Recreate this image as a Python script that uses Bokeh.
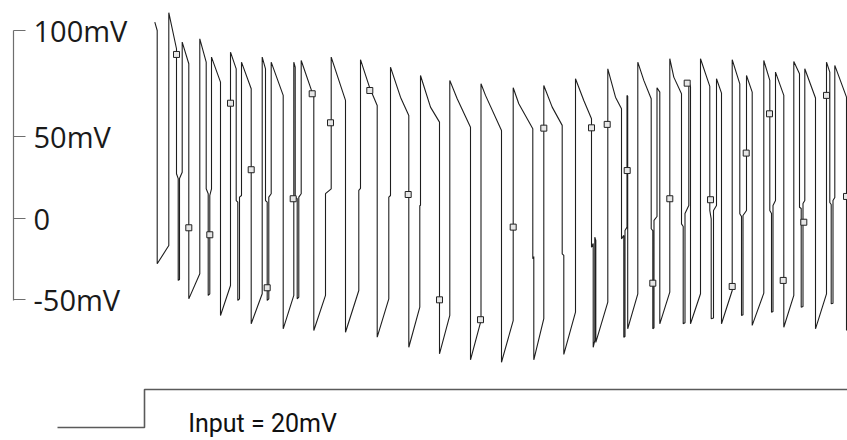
from bokeh.plotting import figure
from bokeh.models import Range1d, LinearAxis, FixedTicker
from bokeh.layouts import column, row
from bokeh.embed import file_html
from bokeh.resources import INLINE
from bokeh.core.properties import value

# membrane potential trace (time in ms, potential in mV)
t_ms = [10.3, 12.7, 12.7, 24.3, 24.3, 32.0, 32.0, 33.7, 33.7, 35.0, 35.0, 37.7, 37.7, 44.3, 44.3,
        55.3, 55.3, 61.7, 61.7, 63.7, 63.7, 65.3, 65.3, 67.0, 67.0, 76.0, 76.0, 86.0, 86.0, 91.7,
        91.7, 93.3, 93.3, 95.0, 95.0, 97.0, 97.0, 106.7, 106.7, 117.7, 117.7, 121.0, 121.0, 122.7, 122.7,
        124.3, 124.3, 126.7, 126.7, 138.7, 138.7, 149.3, 149.3, 150.7, 150.7, 152.7, 152.7, 154.3, 154.3,
        156.7, 156.7, 169.3, 169.3, 181.0, 181.0, 186.7, 186.7, 201.0, 201.0, 214.3, 214.3, 216.0, 216.0,
        225.3, 232.7, 232.7, 244.3, 244.3, 246.0, 246.0, 256.0, 264.3, 264.3, 275.3, 275.3, 276.0, 276.0,
        286.0, 295.0, 295.0, 305.3, 305.3, 312.7, 326.0, 326.0, 336.5, 336.5, 341.0, 357.0, 357.0, 368.7,
        368.7, 374.3, 388.3, 388.3, 389.3, 389.3, 399.3, 399.3, 407.7, 417.7, 417.7, 419.3, 419.3, 431.0,
        431.0, 439.3, 447.0, 447.0, 448.7, 448.7, 450.3, 450.3, 451.3, 451.3, 463.3, 463.3, 471.0, 477.0,
        477.0, 479.3, 479.3, 480.5, 480.5, 482.5, 482.5, 483.2, 483.2, 493.3, 493.3, 499.3, 506.7, 506.7,
        508.3, 508.3, 509.5, 509.5, 512.5, 512.5, 515.3, 515.3, 525.3, 525.3, 529.3, 537.0, 537.0, 538.7,
        538.7, 540.5, 540.5, 544.3, 544.3, 546.0, 546.0, 556.0, 556.0, 565.3, 565.3, 566.7, 566.7, 569.0,
        569.0, 572.0, 572.0, 577.0, 577.0, 587.7, 587.7, 595.3, 595.3, 597.0, 597.0, 598.5, 598.5, 602.0,
        602.0, 607.7, 607.7, 619.3, 619.3, 625.3, 625.3, 627.0, 627.0, 628.5, 628.5, 631.0, 631.0, 639.3,
        639.3, 649.3, 649.3, 655.0, 655.0, 656.7, 656.7, 658.5, 658.5, 660.3, 660.3, 671.0, 671.0, 682.0,
        682.0, 685.3, 685.3, 686.7, 686.7, 688.5, 688.5, 690.3, 690.3, 702.0, 702.0]
v_mV = [120.4, 115.3, -27.8, -16.6, 126.2, 104.1, 27.4, 24.4, -38.0, -37.4, 24.5, 28.4, 108.2, 94.9, -49.3,
        -33.9, 110.2, 95.9, 18.2, 15.2, -47.2, -46.2, 14.1, 18.2, 99.0, 83.6, -59.5, -41.1, 102.0, 91.8,
        11.0, 10.0, -50.3, -49.3, 13.1, 14.1, 95.9, 79.6, -64.6, -46.2, 99.0, 91.8, 11.0, 10.0, -50.3,
        -49.3, 13.1, 15.2, 95.9, 75.5, -67.7, -47.2, 95.9, 92.8, 13.1, 12.1, -49.3, -48.3, 13.1,
        15.2, 96.9, 74.4, -68.7, -47.2, 15.2, 18.2, 99.0, 72.4, -69.8, -44.2, 17.2, 18.4, 97.4,
        80.0, 69.3, -72.8, -49.3, 13.1, 14.1, 92.8, 74.4, 63.2, -79.0, -54.4, 8.0, 8.0, 87.7,
        68.3, 59.1, -83.0, -59.5, 84.7, 73.4, 56.0, -86.7, -62.6, 82.6, 75.5, 54.0, -88.2, -62.6,
        80.2, 70.4, 55.0, -24.7, -23.3, -86.7, -61.5, 81.6, 68.3, 57.1, -21.7, -22.7, -83.4, -57.5,
        85.7, 72.4, 61.2, -17.6, -15.3, -79.0, -74.8, -11.5, -13.5, -76.0, -51.3, 91.8, 74.4, 67.3,
        -12.5, -10.4, -72.8, -72.4, -7.4, -5.3, 75.5, 74.9, -67.7, -46.2, 95.9, 84.7, 73.4, -6.3,
        -7.4, -67.7, -67.1, -1.2, 1.2, 80.2, 77.5, -64.6, -45.2, 98.0, 86.7, 76.5, -3.3, -4.9,
        -64.6, -64.0, 3.1, 8.0, 83.6, 81.0, -64.6, -46.2, 98.0, 81.0, 4.9, -0.2, -61.5, -61.0,
        4.9, 8.0, 85.7, 76.9, -64.6, -44.2, 97.4, 82.6, 2.9, 1.2, -59.5, -59.0, 1.8, 4.9,
        87.7, 77.5, -65.6, -45.8, 96.9, 84.7, 4.9, 3.1, -57.5, -57.0, 8.0, 11.0, 89.8, 75.5,
        -66.7, -47.2, 96.3, 88.8, 6.9, 6.1, -54.4, -54.0, 9.2, 11.0, 91.8, 73.9, -67.7, -46.2,
        95.9, 89.8, 9.8, 8.6, -52.3, -52.0, 11.0, 12.9, 93.9, 74.4, -68.7]

# sampled points (square markers)
marker_t = [32.0, 44.3, 65.3, 86.0, 106.7, 122.7, 148.7, 167.7, 186.0, 225.3, 263.7, 295.0, 336.0, 368.7,
            399.3, 447.0, 462.7, 482.7, 508.3, 525.3, 542.7, 566.0, 587.7, 601.7, 625.0, 638.7, 659.3,
            682.0, 702.0]
marker_v = [100.6, -5.7, -10.0, 70.7, 29.9, -42.5, 12.1, 76.5, 58.7, 78.5, 14.7, -49.9, -62.1, -5.3,
            55.4, 55.6, 57.7, 29.4, -39.7, 12.1, 83.0, 11.5, -41.7, 40.1, 64.2, -38.0, -2.3,
            75.5, 13.5]

# input step
input_t = [-87, 0, 0, 703]
input_mV = [0, 0, 20, 20]
input_label = "Input = 20mV"

# y axis ticks
y_ticks = [-50, 0, 50, 115.3]
y_tick_labels = {-50: "-50mV", 0: "0", 50: "50mV", 115.3: "100mV"}

yr = Range1d(-93.25, 133.7)
TOP_H = 370

# axis-only figure
fa = figure(width=153, height=TOP_H, x_range=Range1d(0, 1), y_range=yr,
            output_backend="svg", toolbar_location=None,
            x_axis_location=None, y_axis_location=None,
            min_border_left=12, min_border_right=140, min_border_top=0, min_border_bottom=0,
            outline_line_color=None, background_fill_color=None, border_fill_color=None)
fa.grid.visible = False
ax = LinearAxis(ticker=FixedTicker(ticks=y_ticks, minor_ticks=[]),
                major_label_overrides=y_tick_labels,
                bounds=(-50.3, 115.3))
ax.axis_line_color = "#6e6e6e"
ax.axis_line_width = 1.2
ax.major_tick_line_color = "#6e6e6e"
ax.major_tick_line_width = 1.2
ax.major_tick_out = 12
ax.major_tick_in = 0
ax.minor_tick_out = 0
ax.minor_tick_in = 0
ax.major_label_standoff = 8
ax.major_label_text_font = "Open Sans"
ax.major_label_text_font_size = "29px"
ax.major_label_text_color = "#1a1a1a"
fa.add_layout(ax, "right")

# trace figure
fm = figure(width=694, height=TOP_H, x_range=Range1d(9, 703), y_range=yr,
            output_backend="svg", toolbar_location=None,
            x_axis_location=None, y_axis_location=None,
            min_border_left=0, min_border_right=0, min_border_top=0, min_border_bottom=0,
            outline_line_color=None)
fm.grid.visible = False
fm.line(t_ms, v_mV, line_color="#1e1e1e", line_width=1.1)
fm.scatter(marker_t, marker_v, marker="square", size=6, fill_color="#e6e6e6",
           line_color="#222222", line_width=1)

# input figure
fi = figure(width=847, height=70, x_range=Range1d(-144, 703), y_range=Range1d(-6.84, 30),
            output_backend="svg", toolbar_location=None,
            x_axis_location=None, y_axis_location=None,
            min_border_left=0, min_border_right=0, min_border_top=0, min_border_bottom=0,
            outline_line_color=None)
fi.grid.visible = False
fi.line(input_t, input_mV, line_color="#5a5a5a", line_width=1.6)
fi.text(x=[118], y=[2.0], text=[input_label],
        text_font=value("Roboto"),
        text_font_size="25px", text_align="center", text_baseline="middle",
        text_color="#111111")

layout = column(row(fa, fm), fi)
open("out.html", "w").write(file_html(layout, INLINE))
